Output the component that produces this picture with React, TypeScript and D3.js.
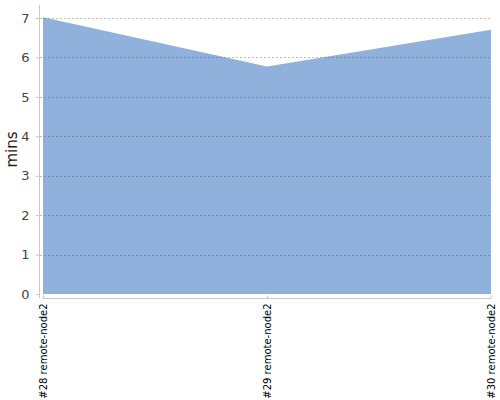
import React, { useEffect, useRef } from 'react';
import * as d3 from 'd3';

const builds = ['#28 remote-node2', '#29 remote-node2', '#30 remote-node2'];
const durations = [7.02, 5.77, 6.7];
const yTicks = [0, 1, 2, 3, 4, 5, 6, 7];

export default function App() {
  const svgRef = useRef<SVGSVGElement | null>(null);

  useEffect(() => {
    const svg = d3.select(svgRef.current);
    svg.selectAll('*').remove();

    const font = 'DejaVu Sans, sans-serif';
    const left = 43, right = 491, top = 5, bottom = 294;

    const x = d3.scalePoint<string>().domain(builds).range([left, right]);
    const y = d3.scaleLinear().domain([0, 7.33]).range([bottom, top]);

    // area
    const area = d3.area<number>()
      .x((d, i) => x(builds[i]) as number)
      .y0(y(0))
      .y1(d => y(d));
    svg.append('path')
      .datum(durations)
      .attr('fill', '#8fb1db')
      .attr('d', area);

    // grid lines
    svg.append('g')
      .selectAll('line')
      .data(yTicks.filter(t => t > 0))
      .enter().append('line')
      .attr('x1', 40).attr('x2', right)
      .attr('y1', d => Math.round(y(d)) + 0.5)
      .attr('y2', d => Math.round(y(d)) + 0.5)
      .attr('stroke', '#555')
      .attr('stroke-opacity', 0.38)
      .attr('stroke-dasharray', '2,2');

    // y axis
    const yAxis = svg.append('g')
      .attr('transform', 'translate(39.5,0)')
      .call(d3.axisLeft(y).tickValues(yTicks).tickSize(4).tickPadding(6).tickFormat(d3.format('d')));
    yAxis.select('.domain').attr('stroke', '#c8c8c8').attr('d', `M0,${top}V298`);
    yAxis.selectAll('.tick line').attr('stroke', '#c8c8c8');
    yAxis.selectAll('.tick text')
      .attr('fill', '#444')
      .style('font-family', font)
      .style('font-size', '13px');

    // x axis
    const xAxis = svg.append('g')
      .attr('transform', 'translate(0,298.5)')
      .call(d3.axisBottom(x).tickSize(3).tickPadding(4));
    xAxis.select('.domain').attr('stroke', '#c8c8c8').attr('d', `M${left},-1V0H${right}V-1`);
    xAxis.selectAll('.tick line').attr('stroke', '#c8c8c8').attr('y2', -3);
    xAxis.selectAll('.tick text')
      .attr('fill', '#000')
      .attr('transform', 'rotate(-90)')
      .attr('text-anchor', 'end')
      .attr('x', -5)
      .attr('y', 0)
      .attr('dy', '0.35em')
      .style('font-family', font)
      .style('font-size', '10px');

    // y label
    svg.append('text')
      .attr('transform', `translate(17,${(top + bottom) / 2}) rotate(-90)`)
      .attr('text-anchor', 'middle')
      .attr('fill', '#222')
      .style('font-family', font)
      .style('font-size', '15px')
      .text('mins');
  }, []);

  return (
    <svg ref={svgRef} width={500} height={400}
      style={{ position: 'absolute', left: 0, top: 0, background: '#fff' }} />
  );
}
